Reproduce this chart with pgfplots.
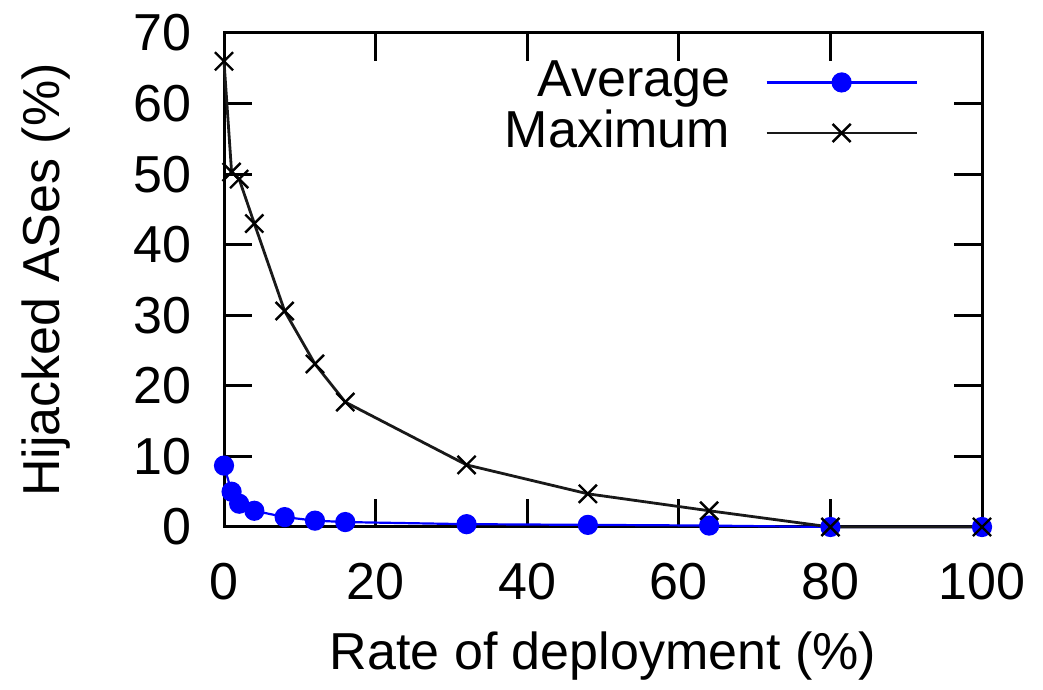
\documentclass[border=0pt]{standalone}
\usepackage{pgfplots}
\pgfplotsset{compat=1.18}
\usepackage{fontspec}
\setmainfont{Liberation Sans}
\usetikzlibrary{calc}
\newcommand{\chartfont}{\fontsize{13}{15}\selectfont}
\begin{document}
\chartfont
\begin{tikzpicture}
\begin{axis}[
 scale only axis, width=189.5pt, height=123.5pt,
 xmin=0,xmax=100,ymin=0,ymax=70,
 xtick={0,20,...,100}, ytick={0,10,...,70},
 tick align=inside, major tick length=7pt,
 minor tick num=0,
 axis line style={line width=0.75pt},
 every tick/.style={black, line width=0.75pt},
 /pgf/number format/assume math mode=true,
 tick label style={font=\chartfont},
 xticklabel style={yshift=-4.4pt},
 yticklabel style={xshift=-3.7pt},
 xlabel={Rate of deployment (\%)},
 ylabel={Hijacked ASes (\%)},
 label style={font=\chartfont},
 xlabel style={at={(axis description cs:0.5,0)}, anchor=base, yshift=-35.75pt},
 ylabel style={at={(axis description cs:-0.2164,0.5)}, anchor=base},
 clip=false,
 legend style={at={(rel axis cs:0.9156,0.944)}, anchor=north east, draw=none, fill=none,
   inner sep=0pt, outer sep=0pt, row sep=1.5pt, column sep=8.75pt,
   nodes={inner sep=0pt}, font=\chartfont},
 legend cell align=right, legend plot pos=right,
 legend image code/.code={\draw[mark repeat=2,mark phase=2,#1] plot coordinates {(0pt,0pt)(18.75pt,0pt)(37.5pt,0pt)};},
]
\coordinate (bl) at (rel axis cs:0,0);
\coordinate (tr) at (rel axis cs:1,1);
\addplot[blue, line width=0.55pt, mark=*, mark size=2.25pt, mark options={fill=blue, draw=blue}] coordinates {
(0,8.7)(1,5.0)(2,3.3)(4,2.3)(8,1.4)(12,0.9)(16,0.7)(32,0.4)(48,0.3)(64,0.2)(80,0)(100,0)};
\addlegendentry{Average}
\addplot[black!90, line width=0.7pt, mark=x, mark size=3.2pt, mark options={black, line width=0.6pt}] coordinates {
(0,66)(1,50.3)(2,49.3)(4,43)(8,30.6)(12,23.1)(16,17.7)(32,8.8)(48,4.7)(64,2.3)(80,0)(100,0)};
\addlegendentry{Maximum}
\end{axis}
\pgfresetboundingbox
\path ($(bl)+(-56pt,-40.75pt)$) rectangle ($(tr)+(15.25pt,8.25pt)$);
\end{tikzpicture}
\end{document}
